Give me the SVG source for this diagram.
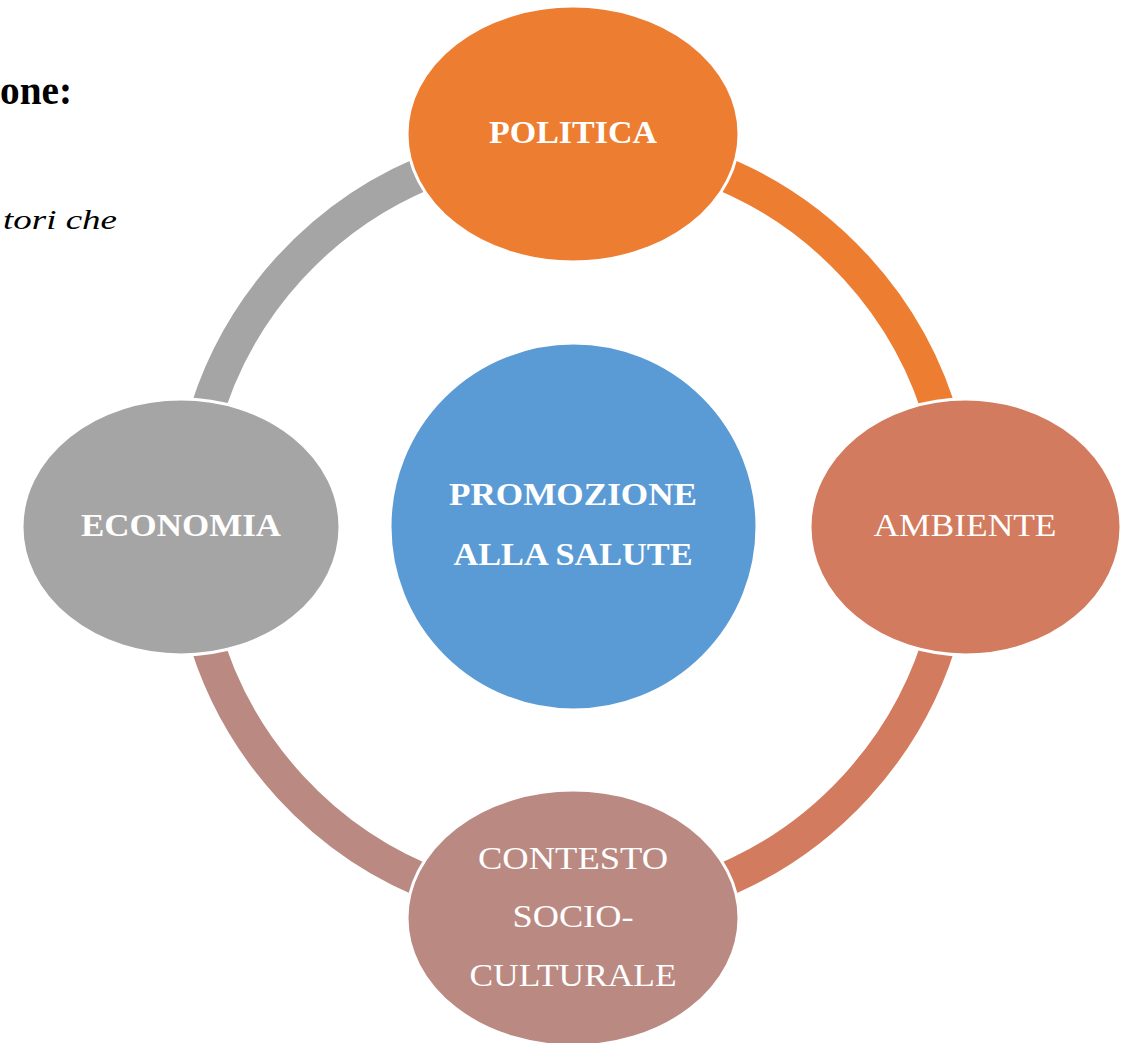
<svg xmlns="http://www.w3.org/2000/svg" width="1129" height="1043" viewBox="0 0 1129 1043">
<style>
.arc{fill:none;stroke-width:34;stroke-linecap:butt}
.node{stroke:#ffffff;stroke-width:3}
.lbl{font-family:"Liberation Serif","Times New Roman",serif;fill:#ffffff;text-anchor:middle}
.b{font-weight:bold}
.page{font-family:"Liberation Serif","Times New Roman",serif;fill:#000000}
</style>
<rect width="1129" height="1043" fill="#ffffff"/>
<text class="page" x="0" y="104" font-size="42" font-weight="bold" textLength="72" lengthAdjust="spacingAndGlyphs">one:</text>
<text class="page" x="3" y="229" font-size="28" font-style="italic" textLength="114" lengthAdjust="spacingAndGlyphs">tori che</text>
<g id="connectors">
<path class="arc" stroke="#ED7D31" d="M704.3,166.2 A384,384 0 0 1 943.9,427.6"/>
<path class="arc" stroke="#D37B5E" d="M943.9,626.4 A384,384 0 0 1 704.3,887.8"/>
<path class="arc" stroke="#BA8A82" d="M441.7,887.8 A384,384 0 0 1 202.1,626.4"/>
<path class="arc" stroke="#A5A5A5" d="M202.1,427.6 A384,384 0 0 1 441.7,166.2"/>
</g>
<g id="node-promozione">
<circle class="node" cx="573.5" cy="526.5" r="183.5" fill="#5B9BD5" stroke="none"/>
<text class="lbl b" x="573" y="505" font-size="32" textLength="248" lengthAdjust="spacingAndGlyphs">PROMOZIONE</text>
<text class="lbl b" x="573" y="565" font-size="32" textLength="239" lengthAdjust="spacingAndGlyphs">ALLA SALUTE</text>
</g>
<g id="node-politica">
<ellipse class="node" cx="573" cy="134" rx="166" ry="128" fill="#ED7D31"/>
<text class="lbl b" x="573" y="143" font-size="32" textLength="168" lengthAdjust="spacingAndGlyphs">POLITICA</text>
</g>
<g id="node-ambiente">
<ellipse class="node" cx="965.5" cy="527" rx="155.5" ry="128" fill="#D37B5E"/>
<text class="lbl" x="965" y="536" font-size="32" textLength="183" lengthAdjust="spacingAndGlyphs">AMBIENTE</text>
</g>
<g id="node-contesto">
<ellipse class="node" cx="573" cy="918" rx="166" ry="128" fill="#BA8A82"/>
<text class="lbl" x="573" y="869" font-size="32" textLength="190" lengthAdjust="spacingAndGlyphs">CONTESTO</text>
<text class="lbl" x="573" y="927" font-size="32" textLength="121" lengthAdjust="spacingAndGlyphs">SOCIO-</text>
<text class="lbl" x="573" y="986" font-size="32" textLength="207" lengthAdjust="spacingAndGlyphs">CULTURALE</text>
</g>
<g id="node-economia">
<ellipse class="node" cx="181" cy="527" rx="159" ry="128" fill="#A5A5A5"/>
<text class="lbl b" x="181" y="536" font-size="32" textLength="200" lengthAdjust="spacingAndGlyphs">ECONOMIA</text>
</g>
</svg>
